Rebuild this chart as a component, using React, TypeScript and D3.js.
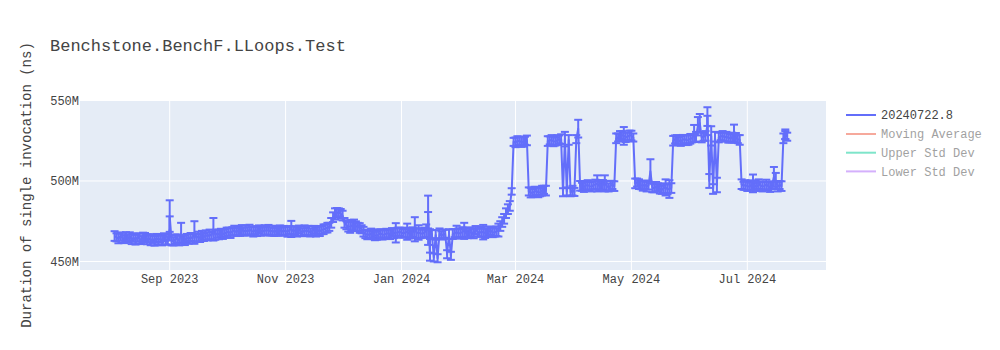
import React from "react";
import * as d3 from "d3";

// [day of month, mean duration (M ns), std error (M ns)]
type Pt = [number, number, number];

const aug2023: Pt[] = [
  [3, 465.8, 3], [4, 465.0, 2.5], [5, 464.3, 3], [6, 465.5, 2.5], [7, 464.8, 3], [8, 463.9, 2.5],
  [9, 465.2, 3], [10, 464.4, 2.5], [11, 465.6, 2.5], [12, 463.8, 3], [13, 464.7, 2.5], [14, 463.5, 3],
  [15, 465.0, 2.5], [16, 464.2, 3], [17, 463.3, 2.5], [18, 464.9, 3], [19, 465.2, 2.5], [20, 463.7, 3],
  [21, 464.5, 2.5], [22, 463.1, 3], [23, 464.0, 2.5], [24, 462.8, 3], [25, 464.6, 2.5], [26, 463.4, 3],
  [27, 464.1, 2.5], [28, 463.0, 3], [29, 465.0, 2.5], [30, 463.6, 3], [31, 462.9, 2.5],
];
const sep2023: Pt[] = [
  [1, 470.5, 7.5], [1, 478.2, 9.8], [2, 463.0, 3], [3, 462.5, 2.5], [4, 463.8, 3], [5, 464.2, 2.5],
  [6, 463.0, 3], [7, 467.5, 6.5], [8, 463.8, 2.5], [9, 463.2, 3], [10, 464.6, 2.5], [11, 464.0, 3],
  [12, 465.2, 2.5], [13, 464.3, 3], [14, 468.0, 7], [15, 464.8, 2.5], [16, 465.5, 3], [17, 464.6, 2.5],
  [18, 466.0, 3], [19, 465.2, 2.5], [20, 466.3, 3], [21, 465.6, 2.5], [22, 466.8, 3], [23, 466.0, 2.5],
  [24, 470.0, 7], [25, 466.5, 3], [26, 467.3, 2.5], [27, 466.8, 3], [28, 467.8, 2.5], [29, 467.0, 3],
  [30, 467.5, 2.5],
];
const oct2023: Pt[] = [
  [1, 468.0, 3], [2, 468.5, 2.5], [3, 467.6, 3], [4, 468.8, 2.5], [5, 469.2, 3], [6, 468.3, 2.5],
  [7, 469.0, 3], [8, 468.4, 2.5], [9, 469.6, 3], [10, 468.7, 2.5], [11, 469.3, 3], [12, 468.6, 2.5],
  [13, 469.8, 3], [14, 469.0, 2.5], [15, 468.5, 3], [16, 469.4, 2.5], [17, 468.8, 3], [18, 469.9, 2.5],
  [19, 469.1, 3], [20, 468.6, 2.5], [21, 469.5, 3], [22, 468.9, 2.5], [23, 469.7, 3], [24, 468.5, 2.5],
  [25, 469.2, 3], [26, 468.4, 2.5], [27, 469.0, 3], [28, 468.7, 2.5], [29, 469.4, 3], [30, 468.6, 2.5],
  [31, 469.1, 3],
];
const nov2023: Pt[] = [
  [1, 469.0, 2.5], [2, 468.4, 3], [3, 469.5, 2.5], [4, 470.2, 5], [5, 468.8, 3], [6, 469.3, 2.5],
  [7, 468.5, 3], [8, 469.8, 2.5], [9, 468.9, 3], [10, 468.2, 2.5], [11, 469.4, 3], [12, 468.7, 2.5],
  [13, 469.1, 3], [14, 468.0, 2.5], [15, 469.0, 3], [16, 469.6, 2.5], [17, 468.5, 3], [18, 469.2, 2.5],
  [19, 468.8, 3], [20, 469.5, 2.5], [21, 470.0, 3], [22, 470.5, 2.5], [23, 471.0, 3], [24, 471.5, 2.5],
  [25, 474.0, 3], [26, 477.5, 3], [27, 479.5, 3.5], [28, 480.2, 3], [29, 480.5, 2.5], [30, 479.6, 3],
];
const dec2023: Pt[] = [
  [1, 478.5, 3], [2, 474.0, 3], [3, 472.5, 2.5], [4, 471.6, 3], [5, 471.8, 4], [6, 472.3, 3],
  [7, 472.5, 3.5], [8, 471.9, 3], [9, 471.5, 2.5], [10, 470.8, 3], [11, 470.0, 2.5], [12, 468.5, 3],
  [13, 467.0, 2.5], [14, 466.8, 3], [15, 466.5, 2.5], [16, 467.4, 3], [17, 467.2, 2.5], [18, 466.2, 3],
  [19, 466.0, 2.5], [20, 466.9, 3], [21, 467.5, 2.5], [22, 466.6, 3], [23, 466.8, 2.5], [24, 467.3, 3],
  [25, 467.5, 2.5], [26, 466.9, 3], [27, 468.2, 2.5], [28, 467.5, 3], [29, 467.8, 6], [30, 468.0, 3],
  [31, 468.5, 2.5],
];
const jan2024: Pt[] = [
  [1, 467.8, 3], [2, 467.5, 2.5], [3, 468.0, 3], [4, 468.5, 5], [5, 467.3, 3], [6, 467.0, 2.5],
  [7, 468.2, 3], [8, 470.0, 7.5], [9, 467.6, 3], [10, 468.0, 4.5], [11, 467.5, 3], [12, 467.2, 2.5],
  [13, 468.0, 3], [14, 469.0, 4], [15, 470.5, 10.2], [15, 480.7, 10.2], [16, 453.0, 2.5], [16, 467.0, 3],
  [17, 467.0, 2.5], [18, 452.5, 2.5], [19, 466.5, 3], [20, 452.0, 2.5], [21, 467.5, 3], [22, 466.2, 2.5],
  [23, 466.8, 3], [24, 467.2, 2.5], [25, 454.5, 2.5], [26, 467.0, 3], [27, 453.5, 2.5], [28, 467.0, 3],
  [29, 467.6, 2.5], [30, 468.2, 4], [31, 467.5, 3],
];
const feb2024: Pt[] = [
  [1, 467.5, 2.5], [2, 468.3, 3], [3, 469.0, 5], [4, 467.6, 3], [5, 467.0, 2.5], [6, 468.2, 3],
  [7, 468.0, 2.5], [8, 467.4, 3], [9, 469.5, 2.5], [10, 468.6, 3], [11, 467.8, 2.5], [12, 468.4, 3],
  [13, 468.2, 4.5], [14, 467.6, 3], [15, 467.8, 2.5], [16, 468.7, 3], [17, 469.0, 2.5], [18, 468.1, 3],
  [19, 468.0, 2.5], [20, 468.8, 3], [21, 469.5, 4], [22, 472.0, 3], [23, 474.5, 3], [24, 476.5, 3],
  [25, 480.0, 3], [26, 482.5, 3], [27, 484.5, 3], [28, 493.5, 2], [29, 524.3, 2.5],
];
const mar2024: Pt[] = [
  [1, 524.0, 3], [2, 524.8, 3], [3, 525.0, 2.5], [4, 524.2, 3], [5, 524.3, 3], [6, 525.0, 2.5],
  [7, 525.2, 3], [8, 493.5, 2.5], [9, 492.8, 3], [10, 492.5, 2.5], [11, 493.4, 3], [12, 493.8, 2.5],
  [13, 492.9, 3], [14, 493.0, 2.5], [15, 494.0, 3], [16, 494.5, 2.5], [17, 494.0, 3], [18, 524.8, 3],
  [19, 525.2, 2.5], [20, 525.5, 3], [21, 524.6, 3], [22, 524.5, 2.5], [23, 525.4, 3], [24, 525.8, 2.5],
  [25, 526.0, 3], [26, 493.0, 2.5], [27, 526.0, 4.5], [28, 493.5, 2.5], [29, 525.5, 3], [30, 493.0, 2.5],
  [31, 494.0, 3],
];
const apr2024: Pt[] = [
  [1, 493.2, 2.5], [2, 526.0, 2.5], [3, 532.5, 5.5], [4, 497.0, 3], [5, 496.4, 2.5], [6, 496.2, 3],
  [7, 497.2, 2.5], [8, 497.5, 3], [9, 496.8, 2.5], [10, 496.5, 3], [11, 497.4, 2.5], [12, 497.8, 3],
  [13, 498.5, 5], [14, 497.0, 3], [15, 496.8, 2.5], [16, 497.6, 3], [17, 498.5, 5], [18, 496.9, 3],
  [19, 496.0, 2.5], [20, 497.1, 3], [21, 497.5, 2.5], [22, 496.8, 3], [23, 526.5, 3], [24, 527.0, 2.5],
  [25, 528.0, 3], [26, 528.5, 2.5], [27, 528.0, 5.5], [28, 527.2, 3], [29, 527.5, 2.5], [30, 528.3, 3],
];
const may2024: Pt[] = [
  [1, 528.2, 3], [2, 527.0, 2.5], [3, 498.5, 3], [4, 499.0, 2.5], [5, 498.0, 3], [6, 497.4, 2.5],
  [7, 497.0, 3], [8, 497.8, 2.5], [9, 496.5, 3], [10, 497.2, 2.5], [11, 506.0, 7.5], [12, 496.0, 3],
  [13, 495.5, 2.5], [14, 496.4, 3], [15, 496.0, 2.5], [16, 495.2, 3], [17, 494.5, 2.5], [18, 495.5, 3],
  [19, 496.0, 5], [20, 494.8, 3], [21, 495.0, 5.5], [22, 495.6, 3], [23, 525.0, 3], [24, 525.8, 2.5],
  [25, 525.5, 3], [26, 524.9, 2.5], [27, 524.8, 3], [28, 525.6, 3], [29, 526.0, 2.5], [30, 525.3, 3],
  [31, 525.5, 3],
];
const jun2024: Pt[] = [
  [1, 526.2, 3], [2, 526.5, 2.5], [3, 529.5, 5.3], [4, 527.5, 3], [5, 534.0, 5.7], [6, 536.0, 5.6],
  [7, 527.0, 3], [8, 527.5, 2.5], [9, 528.0, 3], [10, 534.5, 6], [10, 540.0, 5.8], [11, 500.0, 4.3],
  [12, 528.0, 6], [13, 495.0, 3], [14, 527.5, 3], [15, 497.5, 4.5], [16, 527.0, 3], [17, 527.8, 2.5],
  [18, 528.0, 3], [19, 527.2, 2.5], [20, 527.5, 3], [21, 526.8, 3], [22, 526.5, 2.5], [23, 527.0, 3],
  [24, 529.5, 5.5], [25, 526.8, 3], [26, 526.0, 2.5], [27, 525.5, 3], [28, 498.0, 3], [29, 497.0, 2.5],
  [30, 497.5, 3],
];
const jul2024: Pt[] = [
  [1, 496.8, 3], [2, 496.5, 2.5], [3, 497.4, 3], [4, 498.5, 5.5], [5, 497.0, 3], [6, 496.3, 2.5],
  [7, 498.0, 3], [8, 497.2, 2.5], [9, 496.5, 3], [10, 497.0, 2.5], [11, 497.8, 3], [12, 496.8, 2.5],
  [13, 496.2, 3], [14, 497.3, 2.5], [15, 502.5, 6.2], [16, 500.0, 5], [17, 496.5, 3], [18, 497.5, 2.5],
  [19, 496.8, 3], [20, 526.5, 3], [21, 528.5, 2.5], [21, 529.0, 3], [22, 527.5, 2.5],
];

const monthKeys = ["2023-08", "2023-09", "2023-10", "2023-11", "2023-12", "2024-01",
  "2024-02", "2024-03", "2024-04", "2024-05", "2024-06", "2024-07"];
const monthData = [aug2023, sep2023, oct2023, nov2023, dec2023, jan2024,
  feb2024, mar2024, apr2024, may2024, jun2024, jul2024];

const seriesName = "20240722.8";
const hiddenSeries = ["Moving Average", "Upper Std Dev", "Lower Std Dev"];
const hiddenColors = ["#EF553B", "#00cc96", "#ab63fa"];
const xTickDates = ["2023-09-01", "2023-11-01", "2024-01-01", "2024-03-01", "2024-05-01", "2024-07-01"];
const yTicks = [450, 500, 550];
const chartTitle = "Benchstone.BenchF.LLoops.Test";
const yTitle = "Duration of single invocation (ns)";

const W = 1000, H = 350;
const L = 80, R = 826, T = 100, B = 270;
const FONT = "'Liberation Mono', 'Courier New', monospace";
const MAIN = "#636efa";
const TXT = "#444";

const parse = d3.utcParse("%Y-%m-%d");

export default function App() {
  const all = monthData.flatMap((rows, mi) =>
    rows.map(([day, v, e]) => ({
      date: parse(`${monthKeys[mi]}-${String(day).padStart(2, "0")}`) as Date,
      v,
      e,
    }))
  );

  const x = d3.scaleUtc()
    .domain([new Date(Date.UTC(2023, 6, 15, 19)), new Date(Date.UTC(2024, 7, 11, 10))])
    .range([L, R]);
  const y = d3.scaleLinear().domain([444.7, 550.3]).range([B, T]);

  const line = d3.line<{ date: Date; v: number }>()
    .x((d) => x(d.date))
    .y((d) => y(d.v));

  const fmt = d3.utcFormat("%b %Y");
  const cap = 4;

  return (
    <div style={{ position: "absolute", left: 0, top: 0 }}>
      <svg width={W} height={H} style={{ display: "block", background: "#fff" }} fontFamily={FONT}>
        <defs>
          <clipPath id="plotclip">
            <rect x={L} y={T} width={R - L} height={B - T} />
          </clipPath>
        </defs>
        <rect x={L} y={T} width={R - L} height={B - T} fill="#e5ecf6" />
        {xTickDates.map((t) => {
          const px = x(parse(t) as Date);
          return <line key={"gx" + t} x1={px} x2={px} y1={T} y2={B} stroke="#fff" strokeWidth={1} />;
        })}
        {yTicks.map((t) => (
          <line key={"gy" + t} x1={L} x2={R} y1={y(t)} y2={y(t)} stroke="#fff" strokeWidth={1} />
        ))}
        <g clipPath="url(#plotclip)">
          <path d={line(all) || ""} fill="none" stroke={MAIN} strokeWidth={2} strokeLinejoin="round" />
          {all.map((d, i) => {
            const px = x(d.date);
            const yt = y(d.v + d.e);
            const yb = y(d.v - d.e);
            return (
              <g key={"e" + i} stroke={MAIN} strokeWidth={2}>
                <line x1={px} x2={px} y1={yt} y2={yb} />
                <line x1={px - cap} x2={px + cap} y1={yt} y2={yt} />
                <line x1={px - cap} x2={px + cap} y1={yb} y2={yb} />
              </g>
            );
          })}
        </g>
        {xTickDates.map((t) => {
          const px = x(parse(t) as Date);
          return (
            <text key={"tx" + t} x={px} y={282.5} textAnchor="middle" fontSize={12} fill={TXT}>
              {fmt(parse(t) as Date)}
            </text>
          );
        })}
        {yTicks.map((t) => (
          <text key={"ty" + t} x={79} y={y(t) + 4.2} textAnchor="end" fontSize={12} fill={TXT}>
            {`${t}M`}
          </text>
        ))}
        <text x={50} y={51} fontSize={17} fill={TXT}>{chartTitle}</text>
        <text transform={`translate(31,${(T + B) / 2}) rotate(-90)`} textAnchor="middle" fontSize={14} fill={TXT}>
          {yTitle}
        </text>
        <g>
          <line x1={846} x2={876} y1={115} y2={115} stroke={MAIN} strokeWidth={2} />
          <text x={881} y={119.2} fontSize={12} fill={TXT}>{seriesName}</text>
          {hiddenSeries.map((s, i) => {
            const ly = 134 + i * 18.7;
            return (
              <g key={s} opacity={0.5}>
                <line x1={846} x2={876} y1={ly} y2={ly} stroke={hiddenColors[i]} strokeWidth={2} />
                <text x={881} y={ly + 4.2} fontSize={12} fill={TXT}>{s}</text>
              </g>
            );
          })}
        </g>
      </svg>
    </div>
  );
}
